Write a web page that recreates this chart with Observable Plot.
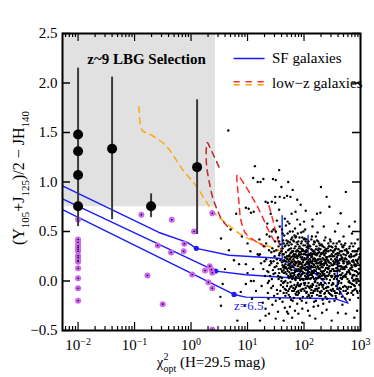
<!DOCTYPE html>
<html><head><meta charset="utf-8">
<script src="https://cdn.jsdelivr.net/npm/d3@7"></script>
<script src="https://cdn.jsdelivr.net/npm/@observablehq/plot@0.6"></script>
<style>body{margin:0;background:#fff;} svg{display:block} svg text{font-family:"Liberation Serif",serif;}</style>
</head><body><div id="chart"></div>
<script>
const SERIF = "Liberation Serif";
const xDomain = [0.0053, 1000];
const yDomain = [-0.5, 2.5];
const xMajorTicks = [0.01, 0.1, 1, 10, 100, 1000];
const xTickExponents = ["\u22122", "\u22121", "0", "1", "2", "3"];
const xMinorTicks = [0.006,0.007,0.008,0.009, 0.02,0.03,0.04,0.05,0.06,0.07,0.08,0.09,
  0.2,0.3,0.4,0.5,0.6,0.7,0.8,0.9, 2,3,4,5,6,7,8,9, 20,30,40,50,60,70,80,90, 200,300,400,500,600,700,800,900];
const yTicks = [-0.5, 0, 0.5, 1, 1.5, 2, 2.5];

// z~9 LBG selection region
const selectionBox = [{x1: 0.0053, x2: 2.7, y1: 0.75, y2: 2.5}];

// candidates with error bars
const candX = [0.01, 0.01, 0.01, 0.01, 0.04, 0.196, 1.28];
const candY = [1.48, 1.31, 1.07, 0.755, 1.335, 0.755, 1.15];
const errX = [0.01, 0.04, 0.196, 1.28];
const errLo = [0.55, 0.62, 0.64, 0.47];
const errHi = [2.15, 2.06, 0.88, 1.83];

// purple sources
const purpleX = [0.01,0.01,0.01,0.01,0.01,0.01,0.01,0.01,0.01,0.01,0.01,0.01,0.01,0.01,0.01,
  0.132,0.455,0.258,0.443,0.76,0.74,0.169,0.315,2.38,1.13,2.14,2.29,1.77,2.38,1.05,2.03,2.38,2.38];
const purpleY = [0.621,0.419,0.392,0.355,0.338,0.321,0.30,0.254,0.234,0.207,0.194,0.129,0.028,-0.073,-0.20,
  0.668,0.618,0.359,0.288,0.376,0.30,0.056,-0.234,0.685,0.50,0.15,0.113,0.106,0.083,0.066,-0.012,-0.073,-0.49];

// SF galaxy tracks
const sfTop = [[0.0053,0.96],[0.27,0.49],[0.86,0.39],[1.24,0.33],[4.7,0.26],[36,0.23],[41,0.22],[41,0.66],[41,0.21],[57,0.17],[92,0.07]];
const sfMid = [[0.0053,0.83],[2.73,0.10],[9.3,0.063],[36,0.04],[118,0.02],[118,0.46],[118,0.14],[250,-0.03]];
const sfBot = [[0.0053,0.72],[5.77,-0.136],[9.3,-0.163],[360,-0.18],[600,-0.224],[390,-0.07],[390,0.24]];
const sfKnots = [[1.24,0.33],[2.73,0.10],[5.77,-0.136]];

// low-z galaxy tracks
const lowzOrange = [[0.12,1.76],[0.137,1.52],[0.18,1.487],[0.356,1.37],[0.70,1.13],[1.21,0.965],[1.82,0.81],[2.38,0.71],[4.7,0.56],[9.3,0.44],[21,0.36],[36,0.31],[60,0.22],[92,0.13]];
const lowzDarkRed = [[3.13,1.15],[2.6,1.25],[2.15,1.35],[1.95,1.4],[1.85,1.3],[1.9,1.15],[2.1,1.0],[2.4,0.85],[2.9,0.72],[3.6,0.61],[5,0.52]];
const lowzRedA = [[30,0.4],[24,0.5],[20,0.6],[16,0.72],[12,0.85],[8.7,0.98],[6.6,1.07],[6.7,0.93],[7.1,0.78],[7.6,0.62],[9.3,0.48],[14,0.4],[22,0.34]];
const lowzRedB = [[24,0.76],[28,0.62],[33,0.45],[40,0.3]];

// field galaxies: [log10 chi2, colour]
const field = [
[1.22,0.27],[1.25,-0.05],[1.28,0.12],[1.21,0.42],[1.27,-0.22],[1.24,0.18],[1.29,0.35],
[1.31,0.05],[1.33,0.22],[1.36,-0.12],[1.38,0.31],[1.34,0.47],[1.37,0.09],[1.32,-0.28],[1.39,0.16],[1.35,0.58],[1.36,-0.02],
[1.41,0.2],[1.42,-0.07],[1.44,0.33],[1.45,0.11],[1.46,0.52],[1.47,-0.15],[1.48,0.25],[1.43,0.02],[1.49,0.4],[1.41,0.68],[1.46,0.07],[1.44,-0.24],[1.48,0.14],[1.42,0.29],
[1.51,0.31],[1.52,-0.09],[1.53,0.18],[1.54,0.44],[1.55,0.02],[1.56,0.26],[1.57,-0.18],[1.58,0.37],[1.59,0.12],[1.52,0.61],[1.54,-0.31],[1.56,0.08],[1.58,0.21],[1.51,0.15],[1.55,0.35],[1.57,0.55],[1.59,-0.04],[1.53,-0.13],[1.56,0.72],[1.58,0.04],
[1.61,0.19],[1.62,0.33],[1.63,-0.06],[1.64,0.11],[1.65,0.46],[1.66,0.24],[1.67,-0.15],[1.68,0.29],[1.69,0.07],[1.61,0.52],[1.62,-0.21],[1.63,0.14],[1.64,0.38],[1.65,-0.01],[1.66,0.63],[1.67,0.17],[1.68,-0.09],[1.69,0.41],[1.61,0.03],[1.63,0.27],[1.65,0.21],[1.66,-0.27],[1.67,0.09],[1.68,0.56],[1.62,0.09],[1.64,-0.12],[1.69,0.23],[1.66,0.13],
[1.71,0.22],[1.72,0.05],[1.73,0.36],[1.74,-0.08],[1.75,0.15],[1.76,0.28],[1.77,-0.19],[1.78,0.11],[1.79,0.44],[1.71,-0.02],[1.72,0.31],[1.73,0.13],[1.74,0.58],[1.75,-0.26],[1.76,0.07],[1.77,0.24],[1.78,-0.05],[1.79,0.19],[1.71,0.48],[1.72,0.16],[1.73,-0.14],[1.74,0.26],[1.75,0.39],[1.76,-0.01],[1.77,0.33],[1.78,0.68],[1.79,0.02],[1.72,-0.33],[1.74,0.09],[1.76,0.18],[1.78,0.29],[1.75,0.04],
[1.81,0.14],[1.82,0.27],[1.83,-0.04],[1.84,0.09],[1.85,0.35],[1.86,0.18],[1.87,-0.11],[1.88,0.23],[1.89,0.06],[1.81,0.41],[1.82,-0.17],[1.83,0.2],[1.84,0.53],[1.85,0.01],[1.86,0.3],[1.87,0.12],[1.88,-0.23],[1.89,0.37],[1.81,-0.07],[1.82,0.08],[1.83,0.46],[1.84,0.16],[1.85,-0.13],[1.86,0.04],[1.87,0.25],[1.88,0.62],[1.89,-0.02],[1.81,0.22],[1.83,0.11],[1.85,0.19],[1.87,0.39],[1.89,0.15],[1.84,-0.3],[1.86,-0.06],
[1.91,0.17],[1.92,0.03],[1.93,0.29],[1.94,-0.09],[1.95,0.12],[1.96,0.4],[1.97,0.07],[1.98,-0.16],[1.99,0.21],[1.91,0.33],[1.92,-0.04],[1.93,0.1],[1.94,0.24],[1.95,0.49],[1.96,-0.2],[1.97,0.15],[1.98,0.31],[1.99,0.01],[1.91,-0.12],[1.92,0.19],[1.93,0.57],[1.94,0.05],[1.95,-0.03],[1.96,0.22],[1.97,-0.28],[1.98,0.09],[1.99,0.36],[1.91,0.07],[1.93,-0.18],[1.95,0.27],[1.97,0.44],[1.99,0.13],[1.92,0.26],[1.96,0.1],
[2.01,0.08],[2.02,0.22],[2.03,-0.07],[2.04,0.14],[2.05,0.34],[2.06,0.02],[2.07,0.18],[2.08,-0.14],[2.09,0.27],[2.01,0.43],[2.02,-0.02],[2.03,0.11],[2.04,-0.22],[2.05,0.19],[2.06,0.38],[2.07,0.05],[2.08,0.12],[2.09,-0.06],[2.01,0.16],[2.02,0.52],[2.03,0.29],[2.04,0.04],[2.05,-0.11],[2.06,0.24],[2.07,-0.3],[2.08,0.33],[2.09,0.09],[2.02,0.12],[2.04,0.31],[2.06,-0.16],[2.08,0.2],[2.05,0.07],
[2.11,0.13],[2.12,-0.05],[2.13,0.24],[2.14,0.06],[2.15,0.31],[2.16,-0.12],[2.17,0.17],[2.18,0.02],[2.19,0.39],[2.11,-0.17],[2.12,0.2],[2.13,0.09],[2.14,0.45],[2.15,-0.03],[2.16,0.14],[2.17,0.28],[2.18,-0.21],[2.19,0.1],[2.11,0.35],[2.12,0.07],[2.13,-0.09],[2.14,0.18],[2.15,0.55],[2.16,0.04],[2.17,-0.26],[2.18,0.23],[2.19,-0.01],[2.13,0.15],[2.16,0.3],[2.18,0.11],
[2.21,0.1],[2.22,0.26],[2.23,-0.08],[2.24,0.15],[2.25,0.03],[2.26,0.33],[2.27,-0.15],[2.28,0.19],[2.29,0.07],[2.21,-0.2],[2.22,0.12],[2.23,0.41],[2.24,-0.02],[2.25,0.22],[2.26,0.08],[2.27,0.29],[2.28,-0.11],[2.29,0.16],[2.21,0.32],[2.22,-0.05],[2.23,0.18],[2.24,0.49],[2.25,-0.25],[2.26,0.13],[2.27,0.05],[2.28,0.36],[2.29,-0.03],[2.24,0.21],
[2.31,0.14],[2.32,-0.04],[2.33,0.23],[2.34,0.06],[2.35,0.3],[2.36,-0.13],[2.37,0.11],[2.38,0.2],[2.39,-0.07],[2.31,0.37],[2.32,0.09],[2.33,-0.19],[2.34,0.17],[2.35,0.02],[2.36,0.26],[2.37,-0.02],[2.38,0.44],[2.39,0.13],[2.31,-0.1],[2.32,0.28],[2.33,0.08],[2.34,-0.23],[2.35,0.16],[2.36,0.34],[2.37,0.05],[2.39,0.24],
[2.41,0.09],[2.42,0.21],[2.43,-0.06],[2.44,0.13],[2.45,0.35],[2.46,0.01],[2.47,0.18],[2.48,-0.14],[2.49,0.27],[2.41,-0.18],[2.42,0.05],[2.43,0.3],[2.44,-0.02],[2.45,0.15],[2.46,0.42],[2.47,-0.09],[2.48,0.1],[2.49,0.04],[2.41,0.24],[2.43,0.12],[2.45,-0.21],[2.47,0.31],[2.49,-0.04],[2.44,0.19],
[2.51,0.16],[2.52,-0.03],[2.53,0.25],[2.54,0.07],[2.55,-0.12],[2.56,0.19],[2.57,0.33],[2.58,0.02],[2.59,0.13],[2.51,-0.08],[2.52,0.29],[2.53,0.1],[2.54,-0.2],[2.55,0.22],[2.56,0.05],[2.57,-0.05],[2.58,0.38],[2.59,0.17],[2.52,0.12],[2.54,0.31],[2.56,-0.15],[2.58,0.24],
[2.61,0.11],[2.62,0.28],[2.63,-0.07],[2.64,0.15],[2.65,0.03],[2.66,0.22],[2.67,-0.16],[2.68,0.08],[2.69,0.34],[2.61,-0.02],[2.62,0.18],[2.63,0.4],[2.64,-0.11],[2.65,0.26],[2.66,0.06],[2.67,0.14],[2.68,-0.24],[2.69,0.2],[2.63,0.1],[2.67,0.3],
[2.71,0.14],[2.72,-0.05],[2.73,0.23],[2.74,0.04],[2.75,0.32],[2.76,-0.13],[2.77,0.17],[2.78,0.09],[2.79,-0.01],[2.71,0.36],[2.72,0.12],[2.73,-0.18],[2.74,0.26],[2.75,0.07],[2.76,0.19],[2.77,-0.08],[2.78,0.29],[2.79,0.11],
[2.81,0.08],[2.82,0.24],[2.83,-0.06],[2.84,0.16],[2.85,0.03],[2.86,0.3],[2.87,-0.14],[2.88,0.19],[2.89,0.06],[2.81,-0.19],[2.82,0.13],[2.84,0.38],[2.85,-0.03],[2.86,0.11],[2.88,0.25],[2.89,-0.09],
[2.91,0.15],[2.92,0.02],[2.93,0.27],[2.94,-0.1],[2.95,0.18],[2.96,0.07],[2.97,0.33],[2.98,-0.04],[2.99,0.12],[2.92,0.21],[2.94,0.09],[2.96,-0.17],[2.98,0.24],[2.93,-0.02],
[0.66,1.52],[1.13,1.16],[1.56,1.12],[1.1,1.04],[1.18,1.0],[1.23,1.0],[1.28,1.03],[1.45,1.03],[1.5,1.02],[1.72,1.0],[2.3,0.95],[2.74,0.9],[2.65,0.685],[2.45,0.75],[1.94,0.77],[2.03,0.71],[2.23,0.68],[2.29,0.69],[1.88,0.82],[1.7,0.86],[1.65,0.84],[1.76,0.85],[1.49,0.85],[1.57,0.85],[1.43,0.8],[1.49,0.79],[1.32,0.8],[1.36,0.79],[0.8,0.68],[0.97,0.74],[1.02,0.73],[1.06,0.69],[1.11,0.7],
[0.53,0.43],[0.67,0.31],[0.76,0.21],[0.85,0.17],[0.97,0.17],[0.97,-0.03],[1.06,0.0],[1.11,0.0],[0.56,-0.03],[0.52,-0.16],[0.88,-0.11],[1.18,0.27],[1.2,0.26],[0.9,0.45],[1.0,0.38],[1.05,0.3],[1.1,0.12],[1.15,-0.1],[0.7,0.52],[0.95,-0.25],[1.08,-0.18],[0.6,0.12],[1.0,0.08],
[0.53,-0.25],[0.82,-0.4],[1.22,-0.4],[1.32,-0.35],[1.38,-0.33],[1.64,-0.4],[1.79,-0.37],[1.97,-0.42],[2.2,-0.38],[2.32,-0.32],[2.49,-0.4],[2.74,-0.33],[2.89,-0.37],[2.94,-0.3],[1.5,-0.38],[1.9,-0.33],[2.1,-0.35],[2.6,-0.32],[2.4,-0.29],[1.7,-0.31],
[2.55,0.5],[2.7,0.45],[2.85,0.48],[2.95,0.42],[2.8,0.55],[2.6,0.58],[2.35,0.55],[2.15,0.62],[2.0,0.6],[1.85,0.7],[2.9,0.6],[2.4,0.85],[1.6,0.95],[1.8,0.92]
];
// denser core of the field population
const fieldCore = [
[1.55,0.12],[1.57,0.28],[1.6,0.0],[1.62,0.16],[1.63,0.41],[1.64,0.2],[1.65,0.08],[1.66,-0.08],[1.67,0.36],[1.68,0.14],[1.7,0.25],[1.7,-0.05],[1.71,0.1],[1.72,0.4],[1.73,0.2],[1.73,0.03],[1.74,0.32],[1.75,0.22],[1.75,-0.16],[1.76,0.12],[1.77,0.05],[1.77,0.42],[1.78,0.2],[1.79,-0.1],[1.79,0.3],
[1.8,0.15],[1.8,0.03],[1.8,0.5],[1.81,0.3],[1.82,0.17],[1.82,-0.1],[1.83,0.06],[1.83,0.33],[1.84,0.24],[1.84,0.02],[1.85,0.27],[1.85,0.1],[1.86,0.45],[1.86,-0.14],[1.87,0.19],[1.87,0.03],[1.88,0.31],[1.88,0.1],[1.89,0.25],[1.89,-0.14],
[1.9,0.2],[1.9,0.05],[1.9,0.4],[1.91,0.27],[1.91,-0.05],[1.92,0.11],[1.92,0.35],[1.93,0.19],[1.93,0.01],[1.94,0.33],[1.94,0.14],[1.95,0.06],[1.95,-0.1],[1.96,0.3],[1.96,0.17],[1.97,-0.08],[1.97,0.24],[1.98,0.19],[1.98,0.02],[1.99,0.27],[1.99,-0.08],
[2.0,0.13],[2.0,0.3],[2.0,-0.02],[2.01,0.23],[2.01,-0.1],[2.02,0.05],[2.02,0.36],[2.03,0.17],[2.03,0.02],[2.04,0.22],[2.04,0.42],[2.05,0.11],[2.05,0.26],[2.06,-0.05],[2.06,0.14],[2.07,0.26],[2.07,0.1],[2.08,0.03],[2.08,0.4],[2.09,0.17],[2.09,-0.15],
[2.1,0.06],[2.1,0.22],[2.1,0.35],[2.11,0.02],[2.11,0.19],[2.12,0.28],[2.12,-0.12],[2.13,0.32],[2.13,0.03],[2.14,-0.06],[2.14,0.25],[2.15,0.1],[2.15,0.2],[2.16,0.22],[2.16,-0.04],[2.17,0.08],[2.17,0.37],[2.18,0.16],[2.18,0.3],[2.19,0.2],[2.19,-0.1],
[2.2,0.14],[2.2,0.0],[2.2,0.28],[2.21,0.2],[2.21,0.03],[2.22,0.35],[2.22,0.18],[2.23,0.08],[2.23,-0.14],[2.24,0.28],[2.24,0.07],[2.25,0.14],[2.25,0.31],[2.26,-0.07],[2.26,0.22],[2.27,0.12],[2.27,0.38],[2.28,0.04],[2.28,0.25],[2.29,0.22],[2.29,-0.12],
[2.3,0.1],[2.3,0.27],[2.3,-0.02],[2.31,0.2],[2.31,0.05],[2.32,0.17],[2.32,0.36],[2.33,0.14],[2.33,-0.06],[2.34,0.28],[2.34,0.1],[2.35,-0.08],[2.35,0.22],[2.36,0.07],[2.36,0.18],[2.37,0.31],[2.37,-0.12],[2.38,0.04],[2.38,0.28],[2.39,0.18],[2.39,0.05],
[2.4,0.13],[2.4,0.3],[2.4,-0.1],[2.41,0.16],[2.42,0.33],[2.42,-0.1],[2.43,0.2],[2.44,0.06],[2.44,0.35],[2.45,0.08],[2.46,0.25],[2.46,-0.13],[2.47,0.1],[2.48,0.22],[2.48,0.35],[2.49,0.16],
[2.5,0.05],[2.5,0.25],[2.5,-0.15],[2.51,0.3],[2.52,0.2],[2.53,-0.1],[2.53,0.02],[2.54,0.17],[2.55,0.1],[2.55,0.32],[2.56,0.27],[2.57,0.13],[2.57,-0.17],[2.58,0.1],[2.59,0.28],[2.59,-0.08],
[2.6,0.2],[2.6,0.05],[2.61,0.32],[2.62,0.0],[2.63,0.21],[2.64,0.06],[2.64,0.3],[2.65,-0.08],[2.66,0.15],[2.66,0.37],[2.67,0.02],[2.68,0.23],[2.69,-0.06],[2.69,0.12],
[2.7,0.27],[2.7,0.04],[2.71,0.2],[2.72,0.31],[2.73,0.06],[2.74,0.15],[2.75,-0.06],[2.75,0.22],[2.76,0.09],[2.77,0.28],[2.78,-0.12],[2.79,0.2],
[2.8,0.1],[2.8,0.33],[2.81,0.18],[2.82,-0.02],[2.83,0.12],[2.84,0.25],[2.85,0.14],[2.86,-0.1],[2.87,0.21],[2.87,0.06],[2.88,0.01],[2.89,0.3],
[2.9,0.17],[2.9,-0.05],[2.91,0.26],[2.92,0.1],[2.93,0.16],[2.94,0.3],[2.95,0.02],[2.96,0.22],[2.97,0.12],[2.98,0.08],[2.99,0.27]
];
const fieldCore2 = [
[1.52,0.22],[1.54,0.05],[1.56,0.4],[1.58,-0.1],[1.6,0.3],[1.61,0.1],[1.62,0.48],[1.63,-0.02],[1.64,0.27],[1.65,0.15],[1.66,0.35],[1.67,0.0],[1.68,0.2],[1.69,-0.12],[1.7,0.38],[1.7,0.12],[1.71,0.6],[1.72,-0.1],[1.73,0.25],[1.74,0.17],[1.75,0.5],[1.76,-0.06],[1.77,0.14],[1.78,0.37],[1.79,0.08],
[1.8,0.25],[1.8,-0.2],[1.81,0.05],[1.82,0.4],[1.83,0.25],[1.84,-0.08],[1.85,0.44],[1.86,0.1],[1.87,0.3],[1.88,-0.04],[1.89,0.48],[1.9,-0.1],[1.9,0.3],[1.91,0.12],[1.92,0.44],[1.93,-0.05],[1.94,0.18],[1.95,0.38],[1.96,0.02],[1.97,0.32],[1.98,0.13],[1.99,0.5],
[2.0,0.08],[2.0,0.42],[2.01,-0.04],[2.02,0.27],[2.03,0.4],[2.04,-0.12],[2.05,0.3],[2.06,0.08],[2.07,0.35],[2.08,-0.02],[2.09,0.36],[2.1,0.15],[2.1,-0.07],[2.11,0.26],[2.12,0.14],[2.13,0.42],[2.14,-0.15],[2.15,0.27],[2.16,0.08],[2.17,-0.1],[2.18,0.4],[2.19,0.27],
[2.2,-0.08],[2.2,0.22],[2.21,0.45],[2.22,0.02],[2.23,0.27],[2.24,-0.1],[2.25,0.4],[2.26,0.18],[2.27,-0.04],[2.28,0.12],[2.29,0.32],[2.3,0.18],[2.3,-0.15],[2.31,0.28],[2.32,0.02],[2.33,0.35],[2.34,-0.04],[2.35,0.1],[2.36,0.41],[2.37,0.21],[2.38,-0.16],[2.39,0.32],
[2.4,0.02],[2.4,0.22],[2.41,-0.06],[2.42,0.13],[2.43,0.38],[2.44,-0.12],[2.45,0.25],[2.46,0.1],[2.47,0.4],[2.48,0.05],[2.49,-0.1],[2.5,0.34],[2.5,0.12],[2.51,-0.02],[2.52,0.38],[2.53,0.18],[2.54,-0.1],[2.55,0.04],[2.56,0.35],[2.57,0.21],[2.58,-0.12],[2.59,0.05],
[2.6,0.26],[2.6,-0.03],[2.61,0.15],[2.62,0.4],[2.63,-0.13],[2.64,0.22],[2.65,0.12],[2.66,-0.02],[2.67,0.24],[2.68,0.35],[2.69,0.04],[2.7,-0.1],[2.7,0.18],[2.71,0.05],[2.72,0.22],[2.73,0.38],[2.74,-0.1],[2.75,0.14],[2.76,0.3],[2.77,0.02],[2.78,0.18],[2.79,-0.06],
[2.8,0.25],[2.8,0.0],[2.81,0.35],[2.82,0.07],[2.83,0.27],[2.84,-0.12],[2.85,0.2],[2.86,0.05],[2.87,0.35],[2.88,-0.04],[2.89,0.16],[2.9,0.1],[2.9,0.38],[2.91,-0.08],[2.92,0.3],[2.93,0.05],[2.94,0.2],[2.95,-0.12],[2.96,0.32],[2.97,0.0],[2.98,0.16],[2.99,-0.1],
[1.3,0.2],[1.33,0.38],[1.35,0.1],[1.37,-0.18],[1.39,0.45],[1.4,0.05],[1.42,0.18],[1.43,0.5],[1.45,-0.05],[1.47,0.3],[1.49,0.08],[1.5,-0.2],[1.5,0.5],[1.38,0.0],[1.46,0.2]
];

// annotations
const titleLabel = [{x: 0.163, y: 2.237, text: "z~9 LBG Selection"}];
const legendLabels = [{x: 27.1, y: 2.247, text: "SF galaxies"}, {x: 27.1, y: 1.995, text: "low\u2212z galaxies"}];
const legendSF = [[5.8, 2.247], [19.6, 2.247]];
const legendRed = [[5.8, 2.012], [19.6, 2.012]];
const legendOrange = [[5.8, 1.982], [19.6, 1.982]];
const zLabel = [{x: 5.77, y: -0.25, text: "z=6.5"}];

const BLUE = "#1a1aff", ORANGE = "#ffa500", RED = "#ff2a2a", DARKRED = "#c0282a", PURPLE = "#cc66f0";
const dash = "6,5";
const lx = d => d[0], ly = d => d[1];
const fieldX = d => Math.pow(10, d[0]);

const chart = Plot.plot({
  width: 374, height: 377,
  marginTop: 33, marginRight: 14, marginBottom: 47, marginLeft: 62,
  style: {fontSize: "15px", background: "#fff"},
  x: {type: "log", domain: xDomain},
  y: {domain: yDomain},
  marks: [
    Plot.rect(selectionBox, {x1: "x1", x2: "x2", y1: "y1", y2: "y2", fill: "#e1e1e1"}),
    Plot.line(sfTop, {x: lx, y: ly, stroke: BLUE, strokeWidth: 1.4, clip: true}),
    Plot.line(sfMid, {x: lx, y: ly, stroke: BLUE, strokeWidth: 1.4, clip: true}),
    Plot.line(sfBot, {x: lx, y: ly, stroke: BLUE, strokeWidth: 1.4, clip: true}),
    Plot.line(lowzOrange, {x: lx, y: ly, stroke: ORANGE, strokeWidth: 1.4, strokeDasharray: dash, curve: "catmull-rom"}),
    Plot.line(lowzDarkRed, {x: lx, y: ly, stroke: DARKRED, strokeWidth: 1.5, strokeDasharray: dash, curve: "catmull-rom"}),
    Plot.line(lowzRedA, {x: lx, y: ly, stroke: RED, strokeWidth: 1.5, strokeDasharray: dash, curve: "catmull-rom"}),
    Plot.line(lowzRedB, {x: lx, y: ly, stroke: RED, strokeWidth: 1.5, strokeDasharray: dash, curve: "catmull-rom"}),
    Plot.dot(field, {x: fieldX, y: ly, r: 1.2, fill: "black", clip: true}),
    Plot.dot(fieldCore, {x: fieldX, y: ly, r: 1.2, fill: "black", clip: true}),
    Plot.dot(fieldCore2, {x: fieldX, y: ly, r: 1.2, fill: "black", clip: true}),
    Plot.dot(sfKnots, {x: lx, y: ly, r: 2.6, fill: BLUE}),
    Plot.dot(purpleX, {x: d => d, y: (d, i) => purpleY[i], r: 3, fill: PURPLE, clip: true}),
    Plot.dot(purpleX, {x: d => d, y: (d, i) => purpleY[i], r: 0.8, fill: "black", clip: true}),
    Plot.ruleX(errX, {x: d => d, y1: (d, i) => errLo[i], y2: (d, i) => errHi[i], stroke: "#3a3a3a", strokeWidth: 2}),
    Plot.dot(candX, {x: d => d, y: (d, i) => candY[i], r: 5, fill: "black"}),
    Plot.text(titleLabel, {x: "x", y: "y", text: "text", fontWeight: "bold", fontSize: 15, fill: "black"}),
    Plot.line(legendSF, {x: lx, y: ly, stroke: BLUE, strokeWidth: 1.4}),
    Plot.line(legendRed, {x: lx, y: ly, stroke: RED, strokeWidth: 1.5, strokeDasharray: "5,7"}),
    Plot.line(legendOrange, {x: lx, y: ly, stroke: ORANGE, strokeWidth: 1.5, strokeDasharray: "5,7"}),
    Plot.text(legendLabels, {x: "x", y: "y", text: "text", textAnchor: "start", fontSize: 15, fill: "black"}),
    Plot.text(zLabel, {x: "x", y: "y", text: "text", textAnchor: "start", fontSize: 13, fill: BLUE}),
    // inward ticks
    Plot.tickX(xMajorTicks, {x: d => d, insetTop: 289, stroke: "black", strokeWidth: 1.2}),
    Plot.tickX(xMajorTicks, {x: d => d, insetBottom: 289, stroke: "black", strokeWidth: 1.2}),
    Plot.tickX(xMinorTicks, {x: d => d, insetTop: 293, stroke: "black", strokeWidth: 1.2}),
    Plot.tickX(xMinorTicks, {x: d => d, insetBottom: 293, stroke: "black", strokeWidth: 1.2}),
    Plot.tickY(yTicks, {y: d => d, insetRight: 290, stroke: "black", strokeWidth: 1.5}),
    Plot.tickY(yTicks, {y: d => d, insetLeft: 290, stroke: "black", strokeWidth: 1.5}),
    Plot.axisX({ticks: xMajorTicks, tickSize: 0, tickPadding: 9, tickFormat: () => "10", label: null, fontSize: 15}),
    Plot.axisY({ticks: yTicks, tickSize: 0, tickPadding: 5, label: null, fontSize: 15}),
    Plot.frame({stroke: "black", strokeWidth: 2})
  ]
});

document.getElementById("chart").appendChild(chart);
const svg = d3.select(chart);
svg.attr("font-family", SERIF).style("font-family", SERIF);
svg.selectAll('g[aria-label="x-axis tick label"] text').each(function(d, i) {
  d3.select(this).append("tspan").attr("dy", "-0.5em").attr("font-size", "10px").text(xTickExponents[i]);
});

// x axis label
const xl = svg.append("text").attr("x", 211).attr("y", 367).attr("text-anchor", "middle")
  .attr("font-size", 15).attr("fill", "black");
xl.append("tspan").text("\u03c7");
xl.append("tspan").attr("dy", -7).attr("font-size", 10).text("2");
xl.append("tspan").attr("dx", -5).attr("dy", 12).attr("font-size", 10).text("opt");
xl.append("tspan").attr("dy", -5).text(" (H=29.5 mag)");

// y axis label
const yl = svg.append("text").attr("transform", "translate(24,178) rotate(-90)").attr("text-anchor", "middle")
  .attr("font-size", 16).attr("fill", "black");
yl.append("tspan").text("(Y");
yl.append("tspan").attr("dy", 5).attr("font-size", 11).text("105");
yl.append("tspan").attr("dy", -5).text("+J");
yl.append("tspan").attr("dy", 5).attr("font-size", 11).text("125");
yl.append("tspan").attr("dy", -5).text(")/2 \u2212 JH");
yl.append("tspan").attr("dy", 5).attr("font-size", 11).text("140");
svg.selectAll("text").attr("font-family", SERIF);
</script>
</body></html>
